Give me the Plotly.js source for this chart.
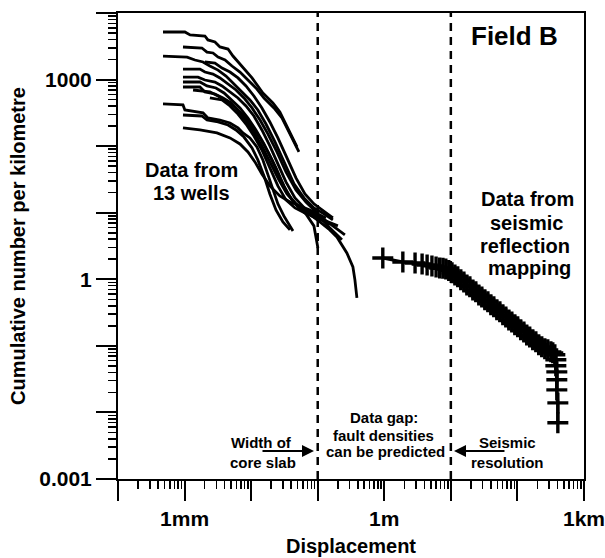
<!DOCTYPE html>
<html><head><meta charset="utf-8">
<script src="https://cdn.plot.ly/plotly-3.0.1.min.js"></script>
<style>body{margin:0;background:#fff}#chart{width:605px;height:558px}</style>
</head><body><div id="chart"></div>
<script>
// Displacement in metres, cumulative number per kilometre
const well1Disp  = [0.000474,0.00101,0.00121,0.00202,0.00224,0.00286,0.00340,0.00449,0.00533,0.00728,0.0103,0.0150,0.0212,0.0270,0.0357,0.0488];
const well1Count = [5190,5190,4680,4520,3940,3670,3090,2880,2260,1600,1060,630,446,327,188,97.3];
const well2Disp  = [0.000946,0.00182,0.00217,0.00267,0.00318,0.00405,0.00515,0.00679,0.00895,0.0118,0.0156,0.0220,0.0290,0.0383,0.0522];
const well2Count = [3090,2980,2590,2510,2180,1970,1600,1300,986,748,530,375,265,152,81.8];
const well3Disp  = [0.000474,0.00109,0.00143,0.00189,0.00240,0.00318,0.00419,0.00552,0.00728,0.00959,0.0126,0.0167,0.0228,0.0310,0.0440,0.0621,0.0877,0.124,0.169];
const well3Count = [2260,2180,1970,1840,1600,1390,1130,859,652,494,350,215,116,58.0,27.1,16.7,11.8,9.60,7.80];
const well4Disp  = [0.000946,0.00170,0.00202,0.00267,0.00340,0.00449,0.00592,0.00780,0.0103,0.0136,0.0179,0.0244,0.0333,0.0471,0.0665,0.0940,0.142,0.231];
const well4Count = [1440,1440,1300,1210,1060,859,698,530,375,247,152,81.8,41.0,22.0,14.5,10.3,6.34,3.91];
const well5Disp  = [0.000946,0.00159,0.00202,0.00286,0.00365,0.00481,0.00634,0.00836,0.0110,0.0145,0.0191,0.0252,0.0333,0.0455,0.0621,0.0818,0.108,0.152,0.194,0.274,0.338,0.362,0.388];
const well5Count = [1090,1090,986,920,802,652,530,402,284,175,101,54.1,29.0,16.7,11.8,8.96,7.28,5.52,4.33,2.49,1.53,0.98,0.526];
const well6Disp  = [0.000946,0.00170,0.00217,0.00296,0.00391,0.00515,0.00679,0.00895,0.0118,0.0156,0.0205,0.0270,0.0357,0.0488,0.0665,0.0877,0.1007];
const well6Count = [920,920,802,748,630,494,375,265,175,108,62.1,33.3,19.1,12.7,9.60,6.34,2.96];
const well7Disp  = [0.000946,0.00170,0.00202,0.00286,0.00378,0.00498,0.00656,0.00865,0.0114,0.0150,0.0198,0.0261,0.0345,0.0471,0.0643,0.0940,0.128,0.187,0.256];
const well7Count = [774,774,652,608,530,446,327,231,152,94.0,54.1,31.1,19.1,13.6,11.0,9.27,7.80,5.91,4.64];
const well8Disp  = [0.00202,0.00286,0.00365,0.00481,0.00634,0.00836,0.0110,0.0145,0.0191,0.0252,0.0345,0.0471,0.0643,0.0877,0.116,0.169];
const well8Count = [1840,1770,1490,1300,1060,802,568,375,231,133,66.5,33.3,19.1,13.6,11.0,8.36];
const well9Disp  = [0.00134,0.00240,0.00318,0.00449,0.00592,0.00780,0.0103,0.0136,0.0179,0.0236,0.0310,0.0410,0.0541,0.0764,0.1007,0.152];
const well9Count = [698,652,568,461,375,284,201,133,81.8,47.1,25.3,15.6,11.8,9.60,8.36,6.56];
const well10Disp  = [0.00240,0.00365,0.00481,0.00634,0.00836,0.0110,0.0145,0.0191,0.0252,0.0333,0.0455,0.0643,0.0940,0.142,0.201];
const well10Count = [530,494,402,304,215,142,87.7,47.1,25.3,15.6,11.8,9.93,8.36,7.28,6.34];
const well11Disp  = [0.000474,0.000946,0.00101,0.00189,0.00224,0.00340,0.00481,0.00634,0.00753,0.00959,0.0122,0.0150,0.0179,0.0212,0.0252,0.0310,0.0425];
const well11Count = [431,416,350,316,265,247,223,188,158,133,97.3,62.1,37.0,22.0,13.6,8.96,5.33];
const well12Disp  = [0.000946,0.00182,0.00217,0.00318,0.00449,0.00592,0.00780,0.0103,0.0126,0.0156,0.0191,0.0236,0.0300,0.0383];
const well12Count = [294,284,247,231,208,175,137,94.0,62.1,35.7,19.1,11.0,7.28,5.52];
const well13Disp  = [0.000946,0.00170,0.00306,0.00481,0.00679,0.00895,0.0114,0.0145,0.0191,0.0270,0.0383,0.0541,0.0764,0.1007,0.133];
const well13Count = [188,175,158,133,108,81.8,58.0,38.3,25.3,17.9,14.5,12.7,11.0,9.60,8.36];

const seismicDisp  = [0.95,1.9,2.9,3.7,4.4,5.2,6.0,6.8,7.6,8.4,9.3,10.4,11.5,12.7,14.1,15.7,17.4,19.3,21.4,23.7,26.3,29.2,32.4,36.0,39.9,44.2,49.1,54.5,60.4,67.0,74.3,82.4,91.4,101,112,125,138,153,170,189,209,232,258,286,318,340,365,378,378,391,391,391,405,405];
const seismicCount = [2.09,1.82,1.76,1.70,1.64,1.59,1.53,1.48,1.46,1.43,1.36,1.25,1.16,1.09,0.98,0.914,0.824,0.769,0.693,0.647,0.583,0.544,0.491,0.458,0.413,0.385,0.348,0.324,0.292,0.272,0.245,0.229,0.207,0.193,0.174,0.162,0.146,0.136,0.123,0.115,0.104,0.0966,0.0902,0.0871,0.0813,0.0785,0.0733,0.0617,0.0501,0.0407,0.0309,0.0218,0.0139,0.00698];

const limitDisp = [0.1, 10];   // core-slab width, seismic resolution

const xTickVals = [1e-4,1e-3,1e-2,1e-1,1,10,100,1000];
const xTickText = ['','1mm','','','1m','','','1km'];
const yTickVals = [1e-3,1e-2,1e-1,1,10,100,1000,10000];
const yTickText = ['0.001','','','1','','','1000',''];

function minorTicks(majors){
  const out=[];
  for(let i=0;i<majors.length-1;i++) for(let k=2;k<=9;k++) out.push(k*majors[i]);
  return out;
}

const wells = [
  [well1Disp,well1Count],[well2Disp,well2Count],[well3Disp,well3Count],[well4Disp,well4Count],
  [well5Disp,well5Count],[well6Disp,well6Count],[well7Disp,well7Count],[well8Disp,well8Count],
  [well9Disp,well9Count],[well10Disp,well10Count],[well11Disp,well11Count],[well12Disp,well12Count],
  [well13Disp,well13Count]
];

const traces = [];
wells.forEach(w => traces.push({x:w[0], y:w[1], mode:'lines', line:{color:'#000', width:2.8}, showlegend:false, hoverinfo:'skip'}));
limitDisp.forEach(d => traces.push({x:[d,d], y:[yTickVals[0], yTickVals[yTickVals.length-1]], mode:'lines',
  line:{color:'#000', width:2.5, dash:'8px,6px'}, showlegend:false, hoverinfo:'skip'}));
traces.push({x:seismicDisp, y:seismicCount, mode:'lines+markers', line:{color:'#000', width:3},
  marker:{symbol:'cross-thin', size:15, color:'#000', line:{width:3.4, color:'#000'}}, showlegend:false, hoverinfo:'skip'});

const F = 'Liberation Sans, Arial, Helvetica, sans-serif';
function txt(text, x, y, size){
  return {text:text, x:x, y:y, xref:'paper', yref:'paper', showarrow:false, xanchor:'center', yanchor:'middle',
    font:{family:F, size:size, color:'#000', weight:700}};
}
function arrow(x, ax){
  return {text:'', x:x, y:0.0601, xref:'paper', yref:'paper', showarrow:true, ax:ax, ay:0,
    arrowhead:2, arrowsize:1.2, arrowwidth:2, arrowcolor:'#000', standoff:0};
}

const axisCommon = {type:'log', tickmode:'array', ticks:'outside', ticklen:20, tickwidth:2, tickcolor:'#000',
  showgrid:false, zeroline:false, showline:true, linewidth:2, linecolor:'#000', mirror:true,
  tickfont:{family:F, size:21, color:'#000', weight:700}};

const layout = {
  width:605, height:558, margin:{l:118, r:21, t:13, b:79},
  paper_bgcolor:'#fff', plot_bgcolor:'#fff', showlegend:false,
  font:{family:F, color:'#000'},
  xaxis: Object.assign({}, axisCommon, {range:[-4.0005,3.0005], tickvals:xTickVals, ticktext:xTickText,
    title:{text:'Displacement', font:{family:F, size:20, color:'#000', weight:700}, standoff:10},
    minor:{tickmode:'array', tickvals:minorTicks(xTickVals), ticks:'outside', ticklen:8, tickwidth:1.5, tickcolor:'#000', showgrid:false}}),
  yaxis: Object.assign({}, axisCommon, {range:[-3.0005,4.0005], tickvals:yTickVals, ticktext:yTickText,
    title:{text:'Cumulative number per kilometre', font:{family:F, size:20, color:'#000', weight:700}, standoff:8},
    minor:{tickmode:'array', tickvals:minorTicks(yTickVals), ticks:'outside', ticklen:8, tickwidth:1.5, tickcolor:'#000', showgrid:false}}),
  annotations:[
    txt('Field B', 0.850, 0.951, 26),
    txt('Data from', 0.157, 0.663, 20),
    txt('13 wells', 0.157, 0.614, 20),
    txt('Data from', 0.878, 0.601, 20),
    txt('seismic', 0.876, 0.549, 20),
    txt('reflection', 0.873, 0.500, 20),
    txt('mapping', 0.882, 0.453, 20),
    txt('Data gap:', 0.571, 0.133, 15),
    txt('fault densities', 0.569, 0.094, 15),
    txt('can be predicted', 0.573, 0.058, 15),
    txt('Width of', 0.309, 0.079, 15),
    txt('core slab', 0.311, 0.036, 15),
    txt('Seismic', 0.835, 0.079, 15),
    txt('resolution', 0.835, 0.036, 15),
    arrow(0.4206, -53),
    arrow(0.721, 52)
  ]
};

Plotly.newPlot('chart', traces, layout, {displayModeBar:false, staticPlot:true});
</script>
</body></html>
